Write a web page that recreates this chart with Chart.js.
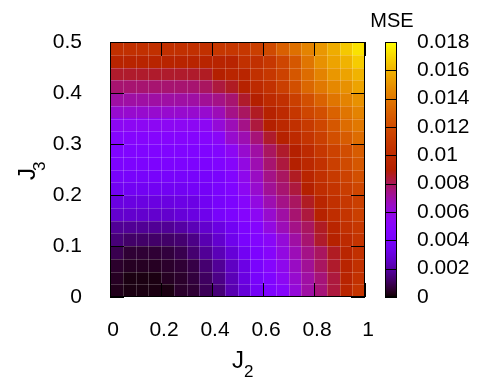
<!DOCTYPE html>
<html>
<head>
<meta charset="utf-8">
<script src="https://cdn.jsdelivr.net/npm/chart.js@4.4.1/dist/chart.umd.min.js"></script>
<style>
  html, body { margin: 0; padding: 0; background: #fff; }
  canvas { display: block; }
</style>
</head>
<body>
<canvas id="mseChart" width="478" height="381"></canvas>
<script>
// cell centres
const j2 = [0.025, 0.075, 0.125, 0.175, 0.225, 0.275, 0.325, 0.375, 0.425, 0.475,
            0.525, 0.575, 0.625, 0.675, 0.725, 0.775, 0.825, 0.875, 0.925, 0.975];
const j3 = [0.4875, 0.4625, 0.4375, 0.4125, 0.3875, 0.3625, 0.3375, 0.3125, 0.2875, 0.2625,
            0.2375, 0.2125, 0.1875, 0.1625, 0.1375, 0.1125, 0.0875, 0.0625, 0.0375, 0.0125];

// one row per j3 value (top to bottom), one column per j2 value
const mse = [
  [0.0103,0.0103,0.0103,0.0103,0.0103,0.0103,0.0103,0.0103,0.0108,0.0108,0.0108,0.0113,0.0119,0.0130,0.0137,0.0144,0.0151,0.0158,0.0166,0.0173],
  [0.0094,0.0094,0.0094,0.0094,0.0094,0.0094,0.0094,0.0094,0.0094,0.0094,0.0103,0.0103,0.0108,0.0117,0.0126,0.0139,0.0149,0.0155,0.0160,0.0167],
  [0.0085,0.0085,0.0085,0.0085,0.0085,0.0085,0.0085,0.0086,0.0090,0.0095,0.0095,0.0103,0.0108,0.0115,0.0126,0.0135,0.0144,0.0151,0.0155,0.0160],
  [0.0077,0.0077,0.0077,0.0077,0.0077,0.0077,0.0077,0.0079,0.0083,0.0086,0.0092,0.0099,0.0104,0.0113,0.0122,0.0133,0.0140,0.0146,0.0149,0.0155],
  [0.0070,0.0070,0.0070,0.0070,0.0070,0.0070,0.0070,0.0072,0.0074,0.0077,0.0085,0.0090,0.0099,0.0103,0.0113,0.0122,0.0131,0.0139,0.0144,0.0149],
  [0.0063,0.0063,0.0063,0.0063,0.0063,0.0063,0.0063,0.0063,0.0067,0.0074,0.0079,0.0086,0.0092,0.0099,0.0108,0.0117,0.0122,0.0131,0.0139,0.0144],
  [0.0054,0.0054,0.0054,0.0054,0.0054,0.0054,0.0054,0.0054,0.0061,0.0067,0.0074,0.0083,0.0090,0.0097,0.0103,0.0110,0.0117,0.0126,0.0135,0.0140],
  [0.0049,0.0049,0.0049,0.0049,0.0049,0.0049,0.0049,0.0049,0.0052,0.0063,0.0068,0.0076,0.0085,0.0092,0.0099,0.0106,0.0113,0.0122,0.0128,0.0135],
  [0.0045,0.0045,0.0045,0.0045,0.0045,0.0045,0.0045,0.0045,0.0047,0.0054,0.0063,0.0070,0.0079,0.0085,0.0090,0.0099,0.0108,0.0115,0.0121,0.0128],
  [0.0043,0.0043,0.0043,0.0043,0.0043,0.0043,0.0043,0.0043,0.0045,0.0050,0.0059,0.0068,0.0077,0.0083,0.0090,0.0097,0.0104,0.0113,0.0119,0.0126],
  [0.0040,0.0040,0.0040,0.0040,0.0040,0.0040,0.0040,0.0040,0.0041,0.0047,0.0056,0.0065,0.0074,0.0079,0.0086,0.0095,0.0103,0.0110,0.0115,0.0122],
  [0.0036,0.0036,0.0036,0.0036,0.0036,0.0036,0.0038,0.0038,0.0041,0.0045,0.0054,0.0063,0.0072,0.0077,0.0083,0.0090,0.0101,0.0106,0.0112,0.0117],
  [0.0031,0.0031,0.0031,0.0031,0.0031,0.0032,0.0032,0.0036,0.0040,0.0043,0.0050,0.0059,0.0068,0.0074,0.0079,0.0086,0.0095,0.0103,0.0108,0.0113],
  [0.0027,0.0027,0.0027,0.0027,0.0027,0.0029,0.0031,0.0034,0.0040,0.0043,0.0049,0.0054,0.0063,0.0070,0.0077,0.0083,0.0092,0.0101,0.0106,0.0113],
  [0.0018,0.0018,0.0018,0.0018,0.0018,0.0020,0.0023,0.0027,0.0031,0.0036,0.0043,0.0049,0.0059,0.0067,0.0074,0.0079,0.0086,0.0095,0.0103,0.0108],
  [0.0014,0.0012,0.0012,0.0012,0.0012,0.0013,0.0016,0.0022,0.0027,0.0034,0.0041,0.0047,0.0052,0.0061,0.0070,0.0077,0.0085,0.0092,0.0099,0.0106],
  [0.0009,0.0006,0.0006,0.0006,0.0007,0.0009,0.0013,0.0018,0.0023,0.0029,0.0036,0.0043,0.0050,0.0059,0.0067,0.0074,0.0079,0.0086,0.0095,0.0103],
  [0.0005,0.0004,0.0004,0.0004,0.0005,0.0006,0.0008,0.0013,0.0018,0.0025,0.0032,0.0041,0.0049,0.0056,0.0065,0.0072,0.0079,0.0085,0.0094,0.0103],
  [0.0004,0.0002,0.0002,0.0002,0.0004,0.0005,0.0007,0.0011,0.0016,0.0023,0.0031,0.0040,0.0045,0.0054,0.0063,0.0070,0.0076,0.0083,0.0094,0.0104],
  [0.0003,0.0002,0.0002,0.0002,0.0002,0.0005,0.0006,0.0010,0.0014,0.0022,0.0029,0.0038,0.0045,0.0050,0.0061,0.0070,0.0076,0.0083,0.0095,0.0106]
];

const j2Ticks = [0, 0.2, 0.4, 0.6, 0.8, 1];
const j3Ticks = [0, 0.1, 0.2, 0.3, 0.4, 0.5];
const mseTicks = [0, 0.002, 0.004, 0.006, 0.008, 0.01, 0.012, 0.014, 0.016, 0.018];

const cellW = 0.05, cellH = 0.025;
const FONT = "Helvetica, 'Liberation Sans', Arial, sans-serif";

// gnuplot default pm3d palette (rgbformulae 7,5,15)
function palette(v) {
  const t = Math.min(Math.max(v / mseTicks[mseTicks.length - 1], 0), 1);
  const r = Math.sqrt(t), g = t * t * t, b = Math.max(Math.sin(2 * Math.PI * t), 0);
  return `rgb(${Math.round(r * 255)},${Math.round(g * 255)},${Math.round(b * 255)})`;
}

const cells = [];
mse.forEach((row, i) => row.forEach((v, k) => cells.push({ x: j2[k], y: j3[i], v: v })));

const heatmap = {
  id: "heatmap",
  beforeDatasetsDraw(chart) {
    const { ctx, scales: { x, y } } = chart;
    ctx.save();
    chart.data.datasets[0].data.forEach(c => {
      const x0 = Math.round(x.getPixelForValue(c.x - cellW / 2));
      const x1 = Math.round(x.getPixelForValue(c.x + cellW / 2));
      const y0 = Math.round(y.getPixelForValue(c.y + cellH / 2));
      const y1 = Math.round(y.getPixelForValue(c.y - cellH / 2));
      ctx.fillStyle = palette(c.v);
      ctx.fillRect(x0, y0, x1 - x0, y1 - y0);
    });
    // light seams between cells
    ctx.strokeStyle = "rgba(255,255,255,0.2)";
    ctx.lineWidth = 1;
    ctx.beginPath();
    j2.slice(0, -1).forEach(c => {
      const px = Math.round(x.getPixelForValue(c + cellW / 2)) + 0.5;
      ctx.moveTo(px, y.top); ctx.lineTo(px, y.bottom);
    });
    j3.slice(0, -1).forEach(c => {
      const py = Math.round(y.getPixelForValue(c - cellH / 2)) + 0.5;
      ctx.moveTo(x.left, py); ctx.lineTo(x.right, py);
    });
    ctx.stroke();
    ctx.restore();
  },
  afterDraw(chart) {
    const { ctx, chartArea: a, scales: { x, y, cb } } = chart;
    ctx.save();
    ctx.strokeStyle = "#000";
    ctx.lineWidth = 1;
    // frame
    ctx.strokeRect(a.left + 0.5, a.top + 0.5, a.right - a.left - 1, a.bottom - a.top - 1);
    // inward ticks, mirrored
    const tl = 14;
    ctx.beginPath();
    j2Ticks.forEach(t => {
      const px = Math.round(x.getPixelForValue(t)) + 0.5;
      ctx.moveTo(px, a.bottom); ctx.lineTo(px, a.bottom - tl);
      ctx.moveTo(px, a.top); ctx.lineTo(px, a.top + tl);
    });
    j3Ticks.forEach(t => {
      const py = Math.round(y.getPixelForValue(t)) + 0.5;
      ctx.moveTo(a.left, py); ctx.lineTo(a.left + tl, py);
      ctx.moveTo(a.right, py); ctx.lineTo(a.right - tl, py);
    });
    ctx.stroke();

    // colour box
    const bx = a.right + 20, bw = 12;
    const top = Math.round(cb.getPixelForValue(cb.max)), bot = Math.round(cb.getPixelForValue(cb.min));
    for (let py = top; py < bot; py++) {
      ctx.fillStyle = palette(cb.getValueForPixel(py + 0.5));
      ctx.fillRect(bx, py, bw, 1);
    }
    ctx.beginPath();
    mseTicks.forEach(t => {
      const py = Math.round(cb.getPixelForValue(t)) + 0.5;
      ctx.moveTo(bx, py); ctx.lineTo(bx + bw, py);
    });
    ctx.stroke();
    ctx.strokeRect(bx + 0.5, top + 0.5, bw - 1, bot - top - 1);

    // titles
    ctx.fillStyle = "#000";
    ctx.textBaseline = "alphabetic";
    ctx.textAlign = "center";
    ctx.font = "20px " + FONT;
    ctx.fillText("MSE", bx + bw / 2 + 1, 27);

    ctx.textAlign = "left";
    ctx.font = "24px " + FONT;
    ctx.fillText("J", 232, 368);
    ctx.font = "17px " + FONT;
    ctx.fillText("2", 244, 377);

    ctx.translate(35, 180);
    ctx.rotate(-Math.PI / 2);
    ctx.font = "24px " + FONT;
    ctx.fillText("J", 0, 0);
    ctx.font = "17px " + FONT;
    ctx.fillText("3", 9, 10);
    ctx.restore();
  }
};

const tickFont = { family: FONT, size: 21 };
const fmt = v => String(+Number(v).toFixed(3));
const noVPad = s => { s.paddingTop = 0; s.paddingBottom = 0; };

new Chart(document.getElementById("mseChart"), {
  type: "scatter",
  data: {
    datasets: [{ data: cells, pointRadius: 0, pointHoverRadius: 0 }]
  },
  options: {
    responsive: false,
    animation: false,
    devicePixelRatio: 1,
    layout: { padding: { top: 42, left: 0, right: 0, bottom: 0 } },
    plugins: { legend: { display: false }, tooltip: { enabled: false } },
    events: [],
    scales: {
      x: {
        type: "linear", position: "bottom", min: 0, max: 1,
        grid: { display: false }, border: { display: false },
        afterBuildTicks: s => { s.ticks = j2Ticks.map(v => ({ value: v })); },
        afterFit: s => { s.height = 84; s.paddingLeft = 0; s.paddingRight = 0; },
        ticks: { font: tickFont, color: "#000", padding: 13, labelOffset: 3, maxRotation: 0, autoSkip: false, callback: fmt }
      },
      y: {
        type: "linear", position: "left", min: 0, max: 0.5,
        grid: { display: false }, border: { display: false },
        afterBuildTicks: s => { s.ticks = j3Ticks.map(v => ({ value: v })); },
        afterFit: s => { s.width = 110; noVPad(s); },
        ticks: { font: tickFont, color: "#000", padding: 20, autoSkip: false, callback: fmt }
      },
      cb: {
        type: "linear", position: "right", axis: "y", min: 0, max: 0.018,
        grid: { display: false }, border: { display: false },
        afterBuildTicks: s => { s.ticks = mseTicks.map(v => ({ value: v })); },
        afterFit: s => { s.width = 113; noVPad(s); },
        ticks: { font: tickFont, color: "#000", padding: 44, autoSkip: false, callback: fmt }
      }
    }
  },
  plugins: [heatmap]
});
</script>
</body>
</html>
